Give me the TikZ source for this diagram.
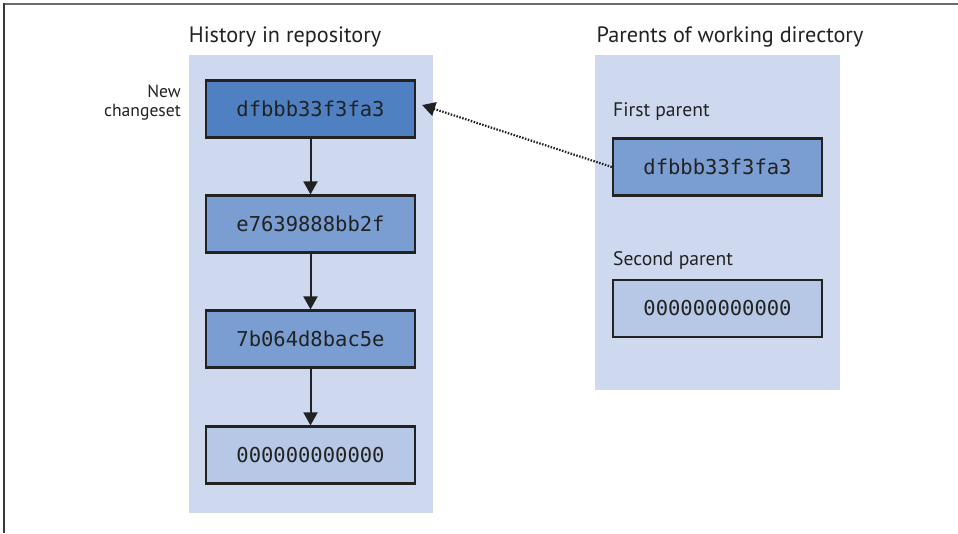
\documentclass[tikz,border=0pt]{standalone}
\usepackage{fontspec}
\setmainfont{PT Sans}
\newfontfamily\hashfont{DejaVu Sans Mono}
\usetikzlibrary{arrows.meta}
\definecolor{panelc}{HTML}{CED9EF}
\definecolor{darkc}{HTML}{4F81C2}
\definecolor{midc}{HTML}{7A9DD2}
\definecolor{lightc}{HTML}{B6C8E6}
\definecolor{edgec}{HTML}{222222}
\tikzset{
  panel/.style={fill=panelc, draw=none},
  hashbox/.style={draw=edgec, line width=2.2pt, minimum width=209pt, minimum height=57pt,
    inner sep=0pt, font=\hashfont\fontsize{20.5}{24}\selectfont, text=edgec},
  titletext/.style={font=\fontsize{22.2}{26}\selectfont, text=edgec, inner sep=0pt},
  labeltext/.style={font=\fontsize{19.6}{22}\selectfont, text=edgec, inner sep=0pt},
  smalltext/.style={font=\fontsize{17.6}{19}\selectfont, text=edgec, inner sep=0pt, align=right},
  solidarrow/.style={line width=2pt, draw=edgec, -{Triangle[width=14pt,length=13pt]}},
  dotarrow/.style={line width=2.2pt, draw=edgec, dash pattern=on 1.5pt off 1.5pt, -{Triangle[width=14pt,length=13pt]}},
}
\begin{document}
\begin{tikzpicture}[x=1pt,y=-1pt]
\useasboundingbox (0,0) rectangle (958,533);
\fill[white] (0,0) rectangle (958,533);
% frame
\draw[line width=2pt, draw=gray!85!black] (3,3.5) -- (958,3.5);
\draw[line width=2pt, draw=edgec!90] (3.5,3) -- (3.5,533);
% panels
\fill[panel] (189,55) rectangle (433,513);
\fill[panel] (595,55) rectangle (840,390);
% titles
\node[titletext] (t1) at (285,37) {History in repository};
\node[titletext] (t2) at (730,37) {Parents of working directory};
% left column
\node[hashbox, fill=darkc] (c1) at (310.5,109) {dfbbb33f3fa3};
\node[hashbox, fill=midc] (c2) at (310.5,224) {e7639888bb2f};
\node[hashbox, fill=midc] (c3) at (310.5,339) {7b064d8bac5e};
\node[hashbox, fill=lightc] (c4) at (310.5,455) {000000000000};
\node[smalltext, anchor=east] (nc) at (181,103) {New\\changeset};
% right column
\node[labeltext, anchor=west] (fp) at (613,112) {First parent};
\node[hashbox, fill=midc] (p1) at (717.5,167) {dfbbb33f3fa3};
\node[labeltext, anchor=west] (sp) at (613,260) {Second parent};
\node[hashbox, fill=lightc] (p2) at (717.5,308.5) {000000000000};
% arrows
\draw[solidarrow] (c1) -- (c2);
\draw[solidarrow] (c2) -- (c3);
\draw[solidarrow] (c3) -- (c4);
\draw[dotarrow] (p1.west) -- ([xshift=6pt,yshift=4pt]c1.east);
\end{tikzpicture}
\end{document}
